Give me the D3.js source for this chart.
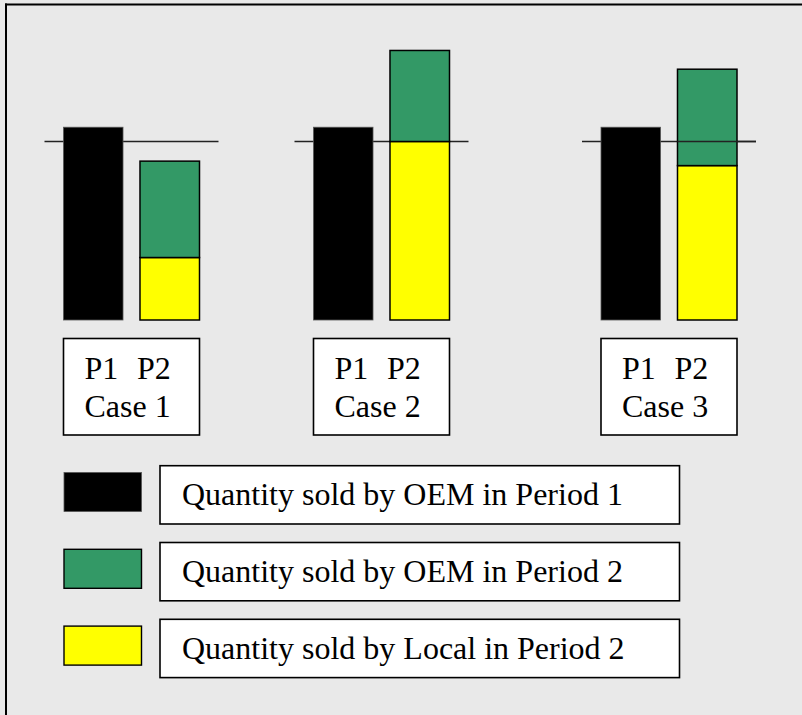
<!DOCTYPE html>
<html>
<head>
<meta charset="utf-8">
<script src="https://cdn.jsdelivr.net/npm/d3@7"></script>
<style>
  html, body { margin: 0; padding: 0; background: #e9e9e9; overflow: hidden; }
  svg { display: block; }
</style>
</head>
<body>
<script>
// Data: three cases, each comparing period 1 with period 2
const cases = ["Case 1", "Case 2", "Case 3"];
const periods = ["P1", "P2"];
const oemPeriod1 = [108, 108, 108];     // quantity sold by OEM in period 1
const oemPeriod2 = [54, 51, 54];        // quantity sold by OEM in period 2
const localPeriod2 = [35, 100, 86.5];   // quantity sold by local firm in period 2
const referenceLevel = 100;             // horizontal reference line

const legendLabels = [
  "Quantity sold by OEM in Period 1",
  "Quantity sold by OEM in Period 2",
  "Quantity sold by Local in Period 2"
];
const seriesColors = ["#000000", "#339966", "#ffff00"];

const W = 802, H = 715;
const FONT = '"Liberation Serif", "Times New Roman", serif';
const svg = d3.select("body").append("svg").attr("width", W).attr("height", H);

// Background and frame (left and top edges)
svg.append("rect").attr("width", W).attr("height", H).attr("fill", "#e9e9e9");
svg.append("line").attr("x1", 6).attr("x2", 6).attr("y1", 3.5).attr("y2", H)
  .attr("stroke", "#000").attr("stroke-width", 2);
svg.append("line").attr("x1", 5).attr("x2", W).attr("y1", 4.5).attr("y2", 4.5)
  .attr("stroke", "#000").attr("stroke-width", 2);

// Scales
const groupX = d3.scaleOrdinal().domain(cases).range([63.5, 313.5, 601]);
const groupWidth = 136;
const barX = d3.scaleBand().domain(periods).range([0, groupWidth]).paddingInner(0.222);
const y = d3.scaleLinear().domain([0, referenceLevel]).range([320, 141.5]);

const rows = cases.map((c, i) => ({
  name: c,
  p1: oemPeriod1[i],
  local: localPeriod2[i],
  oem: oemPeriod2[i]
}));

const groups = svg.selectAll("g.case").data(rows).join("g")
  .attr("class", "case")
  .attr("transform", d => `translate(${groupX(d.name)},0)`);

// Reference line
groups.append("line")
  .attr("x1", -19).attr("x2", groupWidth + 19)
  .attr("y1", y(referenceLevel)).attr("y2", y(referenceLevel))
  .attr("stroke", "#222").attr("stroke-width", 1.6);

// P1 bar: OEM sales in period 1
groups.append("rect")
  .attr("x", barX("P1")).attr("width", barX.bandwidth())
  .attr("y", d => y(d.p1)).attr("height", d => y(0) - y(d.p1))
  .attr("fill", seriesColors[0]).attr("stroke", "#555").attr("stroke-width", 0.8);

// P2 stacked bar: local (bottom) and OEM (top)
groups.append("rect")
  .attr("x", barX("P2")).attr("width", barX.bandwidth())
  .attr("y", d => y(d.local)).attr("height", d => y(0) - y(d.local))
  .attr("fill", seriesColors[2]).attr("stroke", "#000").attr("stroke-width", 1.5);
groups.append("rect")
  .attr("x", barX("P2")).attr("width", barX.bandwidth())
  .attr("y", d => y(d.local + d.oem)).attr("height", d => y(d.local) - y(d.local + d.oem))
  .attr("fill", seriesColors[1]).attr("stroke", "#000").attr("stroke-width", 1.5);

// Reference line shows through the P2 bar where it crosses it
groups.filter(d => d.local < referenceLevel && d.local + d.oem > referenceLevel)
  .append("line")
  .attr("x1", barX("P2")).attr("x2", groupWidth + 19)
  .attr("y1", y(referenceLevel)).attr("y2", y(referenceLevel))
  .attr("stroke", "#222").attr("stroke-width", 1.6);

// Case label boxes
const labelTop = 338.5, labelH = 96.5;
groups.append("rect")
  .attr("x", 0).attr("y", labelTop)
  .attr("width", groupWidth).attr("height", labelH)
  .attr("fill", "#fff").attr("stroke", "#000").attr("stroke-width", 1.6);
groups.selectAll("text.period").data(periods).join("text")
  .attr("class", "period")
  .attr("x", (p, i) => i === 0 ? 21 : 73.5)
  .attr("y", labelTop + 40)
  .style("font-family", FONT).style("font-size", "32px")
  .text(p => p);
groups.append("text")
  .attr("x", 21).attr("y", labelTop + 78.4)
  .style("font-family", FONT).style("font-size", "32px")
  .text(d => d.name);

// Legend
const legendY = d3.scalePoint().domain(legendLabels).range([465.7, 619.3]);
const legend = svg.selectAll("g.legend").data(legendLabels).join("g")
  .attr("class", "legend")
  .attr("transform", d => `translate(0,${legendY(d)})`);
legend.append("rect")
  .attr("x", 64).attr("y", 6.8).attr("width", 77.5).attr("height", 39)
  .attr("fill", (d, i) => seriesColors[i])
  .attr("stroke", (d, i) => i === 0 ? "#555" : "#000")
  .attr("stroke-width", (d, i) => i === 0 ? 0.8 : 1.4);
legend.append("rect")
  .attr("x", 160).attr("y", 0).attr("width", 519.5).attr("height", 58.3)
  .attr("fill", "#fff").attr("stroke", "#000").attr("stroke-width", 1.6);
legend.append("text")
  .attr("x", 182).attr("y", 39.3)
  .style("font-family", FONT).style("font-size", "32px")
  .text(d => d);
</script>
</body>
</html>
